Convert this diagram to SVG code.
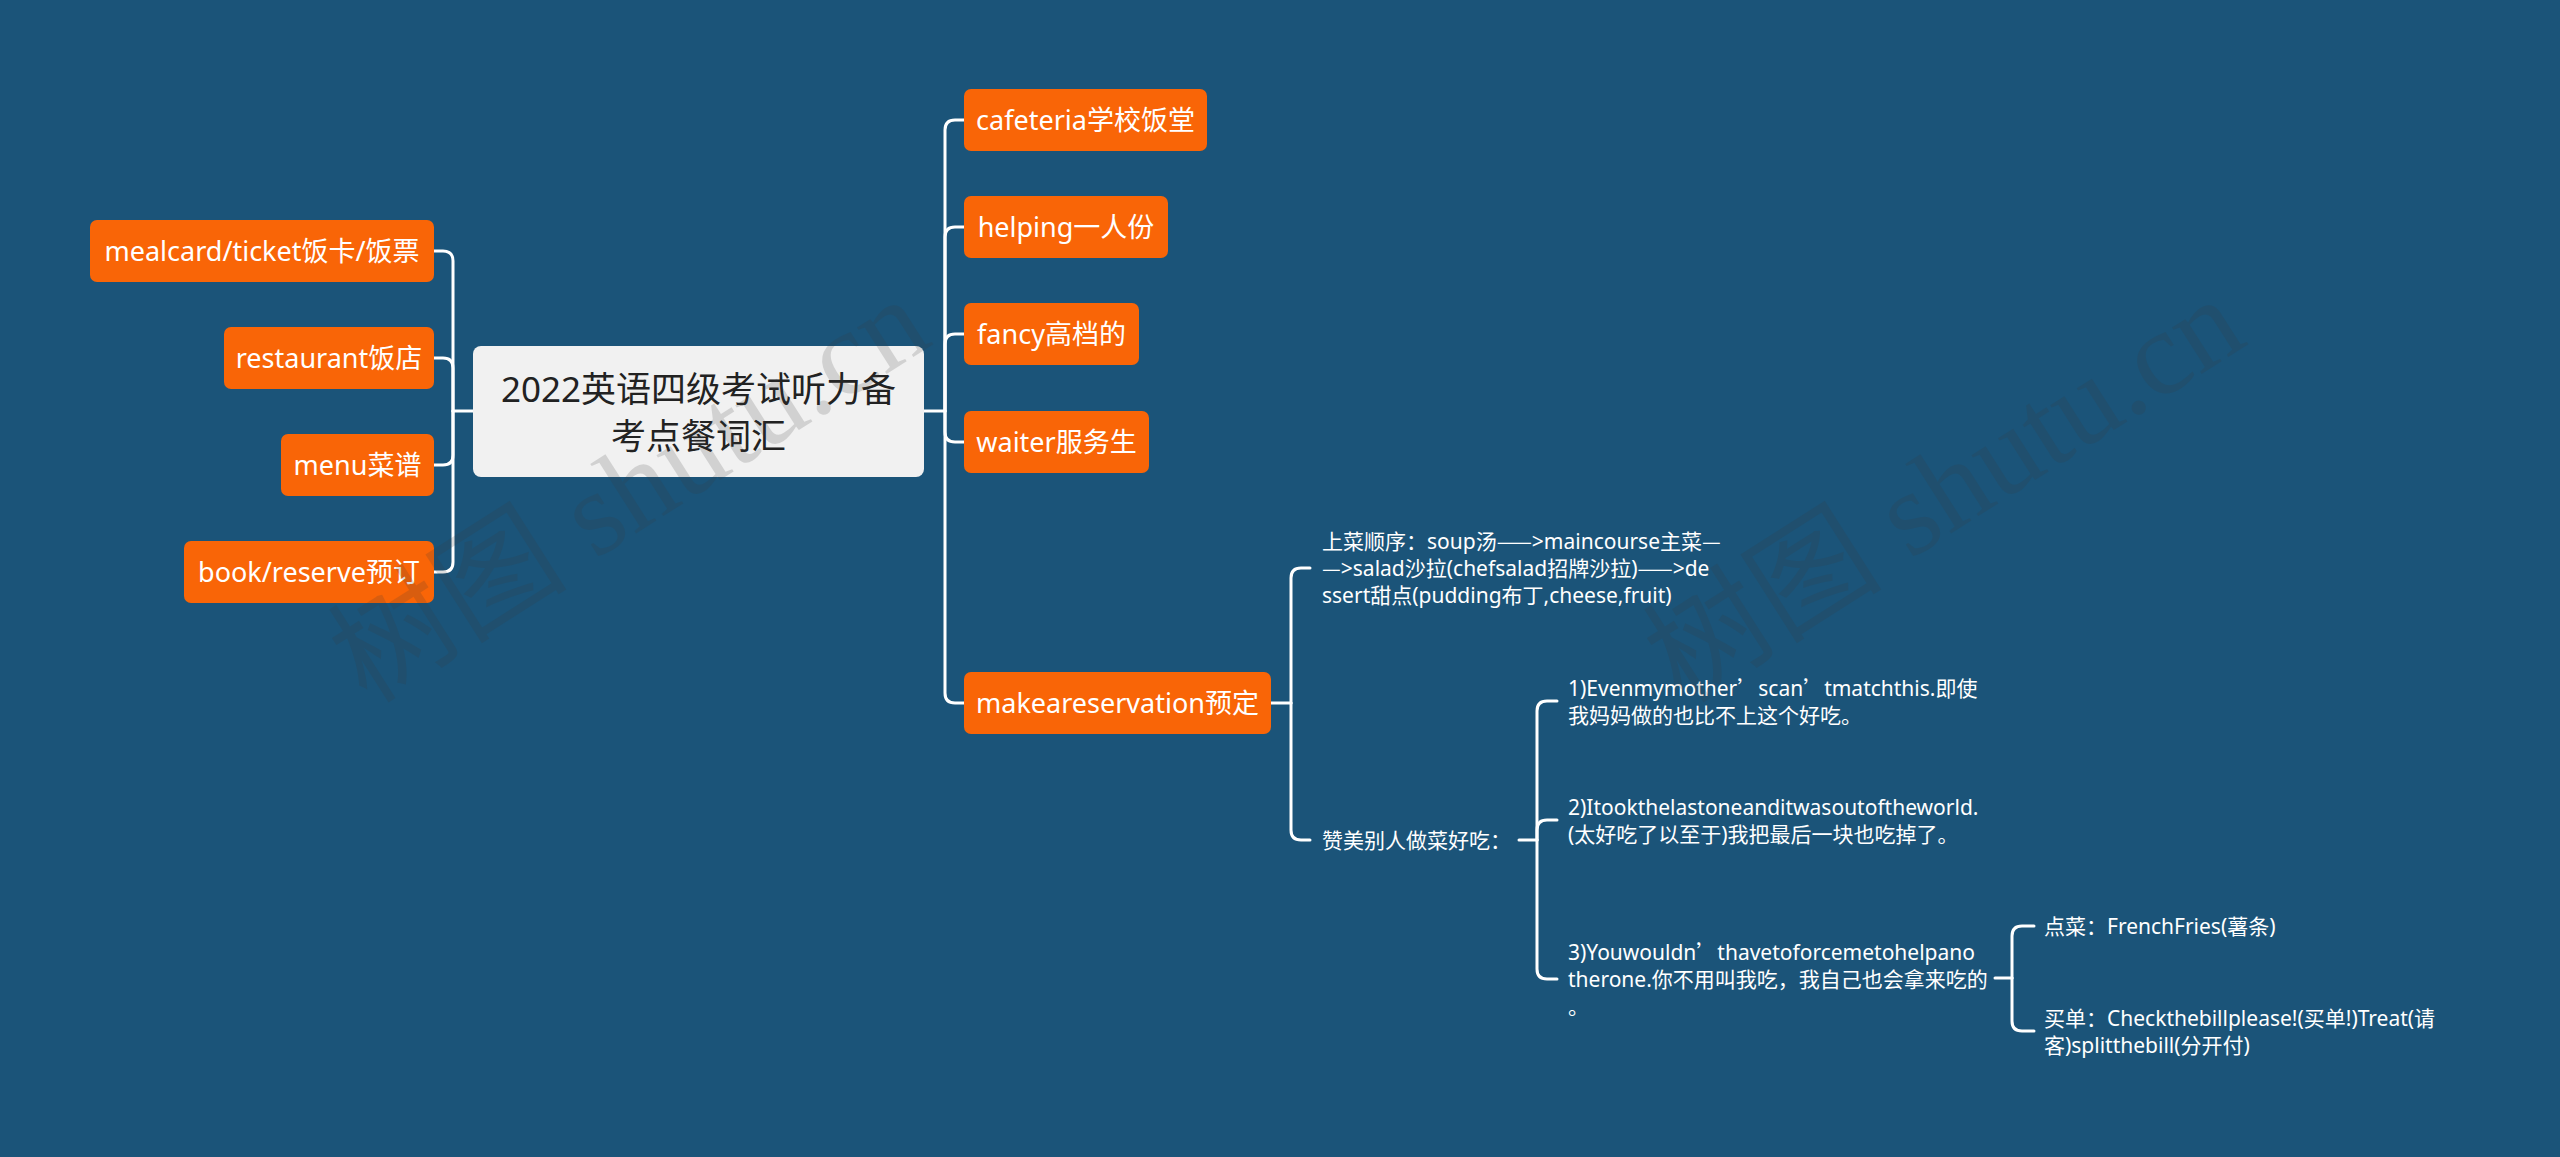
<svg xmlns="http://www.w3.org/2000/svg" width="2560" height="1157" viewBox="0 0 2560 1157">
<style>
.bg{fill:#1b5479}
.node rect{fill:#f96507}
.node text{font-family:"Noto Sans","Noto Sans CJK SC",sans-serif;font-size:27px;fill:#ffffff;text-anchor:middle}
.root rect{fill:#f1f1f1}
.root text{font-family:"Noto Sans","Noto Sans CJK SC",sans-serif;font-size:35px;fill:#222222;text-anchor:middle}
.leaf text{font-family:"Noto Sans","Noto Sans CJK SC",sans-serif;font-size:21px;fill:#ffffff}
.q{font-family:"Noto Sans CJK SC",sans-serif}
#connectors path{fill:none;stroke:#ffffff;stroke-width:3;stroke-linecap:round}
.wm{font-family:"Liberation Serif","Noto Sans CJK SC",serif;font-size:120px;fill:#3a3a3a;opacity:0.17}
</style>
<rect class="bg" x="0" y="0" width="2560" height="1157"/>
<g id="connectors">
<path d="M473,411 H453"/>
<path d="M453,411 V261 Q453,251 443,251 H434"/>
<path d="M453,411 V368 Q453,358 443,358 H434"/>
<path d="M453,411 V455 Q453,465 443,465 H434"/>
<path d="M453,411 V562 Q453,572 443,572 H434"/>
<path d="M924,411 H945"/>
<path d="M945,411 V130 Q945,120 955,120 H964"/>
<path d="M945,411 V237 Q945,227 955,227 H964"/>
<path d="M945,411 V344 Q945,334 955,334 H964"/>
<path d="M945,411 V432 Q945,442 955,442 H964"/>
<path d="M945,411 V693 Q945,703 955,703 H964"/>
<path d="M1271,703 H1291"/>
<path d="M1291,703 V578 Q1291,568 1301,568 H1310"/>
<path d="M1291,703 V830 Q1291,840 1301,840 H1310"/>
<path d="M1519,840 H1537"/>
<path d="M1537,840 V711 Q1537,701 1547,701 H1557"/>
<path d="M1537,840 V830 Q1537,820 1547,820 H1557"/>
<path d="M1537,840 V969 Q1537,979 1547,979 H1557"/>
<path d="M1995,978 H2012"/>
<path d="M2012,978 V936 Q2012,926 2022,926 H2034"/>
<path d="M2012,978 V1021 Q2012,1031 2022,1031 H2034"/>
</g>
<g id="root" class="root">
<rect x="473" y="346" width="451" height="131" rx="8"/>
<text x="698.5" y="402">2022英语四级考试听力备</text>
<text x="698.5" y="449">考点餐词汇</text>
</g>
<g id="n-mealcard" class="node"><rect x="90" y="220" width="344" height="62" rx="7"/><text x="262" y="261">mealcard/ticket饭卡/饭票</text></g>
<g id="n-restaurant" class="node"><rect x="224" y="327" width="210" height="62" rx="7"/><text x="329" y="368">restaurant饭店</text></g>
<g id="n-menu" class="node"><rect x="281" y="434" width="153" height="62" rx="7"/><text x="357.5" y="475">menu菜谱</text></g>
<g id="n-book" class="node"><rect x="184" y="541" width="250" height="62" rx="7"/><text x="309" y="582">book/reserve预订</text></g>
<g id="n-cafeteria" class="node"><rect x="964" y="89" width="243" height="62" rx="7"/><text x="1085.5" y="130">cafeteria学校饭堂</text></g>
<g id="n-helping" class="node"><rect x="964" y="196" width="204" height="62" rx="7"/><text x="1066" y="237">helping一人份</text></g>
<g id="n-fancy" class="node"><rect x="964" y="303" width="175" height="62" rx="7"/><text x="1051.5" y="344">fancy高档的</text></g>
<g id="n-waiter" class="node"><rect x="964" y="411" width="185" height="62" rx="7"/><text x="1056.5" y="452">waiter服务生</text></g>
<g id="n-reservation" class="node"><rect x="964" y="672" width="307" height="62" rx="7"/><text x="1117.5" y="713">makeareservation预定</text></g>
<g id="n-order" class="leaf">
<text x="1322" y="548.5">上菜顺序：soup汤<tspan class="q">——</tspan>&gt;maincourse主菜<tspan class="q">—</tspan></text>
<text x="1322" y="575.5"><tspan class="q">—</tspan>&gt;salad沙拉(chefsalad招牌沙拉)<tspan class="q">——</tspan>&gt;de</text>
<text x="1322" y="602.5">ssert甜点(pudding布丁,cheese,fruit)</text>
</g>
<g id="n-praise" class="leaf"><text x="1322" y="847.5">赞美别人做菜好吃：</text></g>
<g id="n-p1" class="leaf">
<text x="1568" y="695.5">1)Evenmymother<tspan class="q">’</tspan>scan<tspan class="q">’</tspan>tmatchthis.即使</text>
<text x="1568" y="722.5">我妈妈做的也比不上这个好吃。</text>
</g>
<g id="n-p2" class="leaf">
<text x="1568" y="814.5">2)Itookthelastoneanditwasoutoftheworld.</text>
<text x="1568" y="841.5">(太好吃了以至于)我把最后一块也吃掉了。</text>
</g>
<g id="n-p3" class="leaf">
<text x="1568" y="959.5">3)Youwouldn<tspan class="q">’</tspan>thavetoforcemetohelpano</text>
<text x="1568" y="986.5">therone.你不用叫我吃，我自己也会拿来吃的</text>
<text x="1568" y="1013.5">。</text>
</g>
<g id="n-dish" class="leaf"><text x="2044" y="933.5">点菜：FrenchFries(薯条)</text></g>
<g id="n-bill" class="leaf">
<text x="2044" y="1025.5">买单：Checkthebillplease!(买单!)Treat(请</text>
<text x="2044" y="1052.5">客)splitthebill(分开付)</text>
</g>
<text class="wm" x="367" y="705" transform="rotate(-32.5 367 705)">树图 shutu.cn</text>
<text class="wm" x="1682" y="705" transform="rotate(-32.5 1682 705)">树图 shutu.cn</text>
</svg>
